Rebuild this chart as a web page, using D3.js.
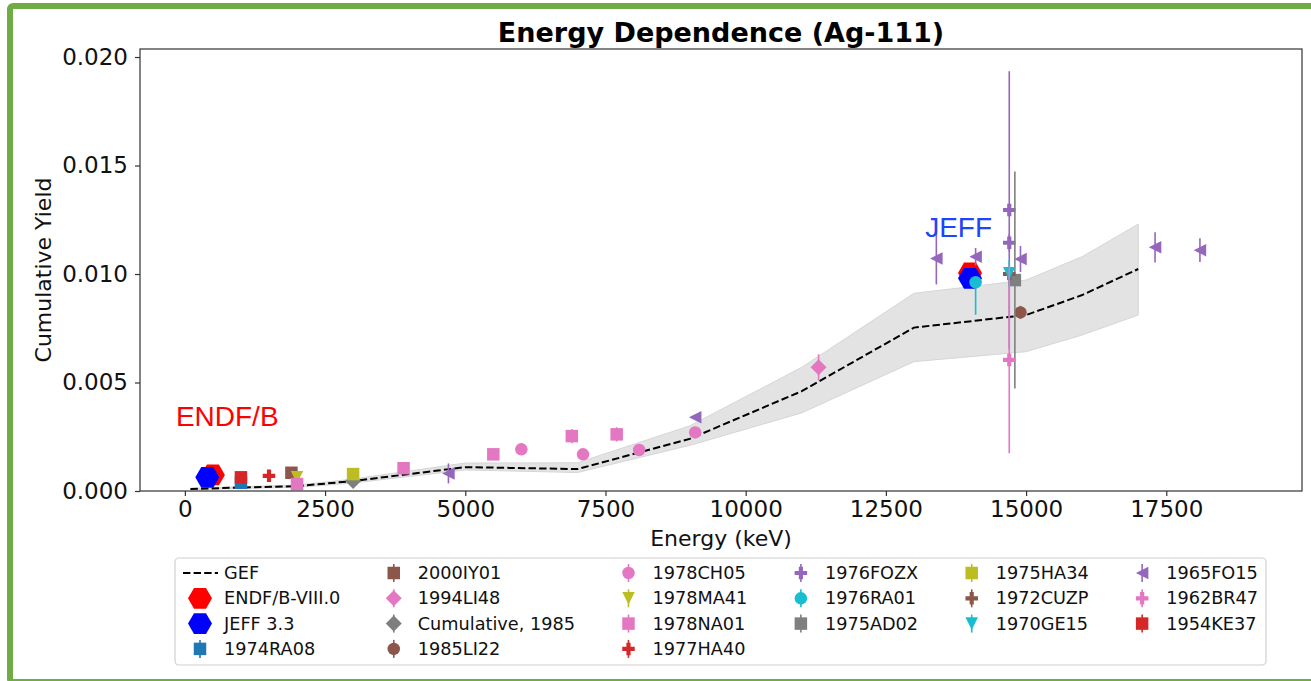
<!DOCTYPE html>
<html>
<head>
<meta charset="utf-8">
<script src="https://cdn.jsdelivr.net/npm/d3@7"></script>
<style>
  body { margin: 0; background: #fff; }
  svg { display: block; }
</style>
</head>
<body>
<svg id="chart" width="1311" height="681"></svg>
<script>
// ---- GEF model curve with its uncertainty band ----
const gefEnergy = [100, 1000, 2000, 3000, 5000, 7000, 9000, 11000, 13000, 15000, 16000, 17000];
const gefYield  = [0.00009, 0.00016, 0.00022, 0.00046, 0.00110, 0.00101, 0.00240, 0.00460, 0.00753, 0.00811, 0.00903, 0.01023];
const gefLow    = [0.00006, 0.00012, 0.00017, 0.00037, 0.00097, 0.00085, 0.00210, 0.00360, 0.00596, 0.00642, 0.00719, 0.00811];
const gefHigh   = [0.00012, 0.00020, 0.00027, 0.00055, 0.00129, 0.00130, 0.00300, 0.00570, 0.00911, 0.00972, 0.01080, 0.01230];

// ---- evaluated libraries ----
const endfEnergy = [500, 14000];
const endfYield  = [0.00074, 0.01005];
const jeffEnergy = [400, 14000];
const jeffYield  = [0.00063, 0.00980];

// ---- axis ticks ----
const xTicks = [0, 2500, 5000, 7500, 10000, 12500, 15000, 17500];
const yTicks = [0, 0.005, 0.010, 0.015, 0.020];

// ---- experimental data sets ----
const seriesNames = ["1974RA08", "2000IY01", "1994LI48", "Cumulative, 1985", "1985LI22",
  "1978CH05", "1978MA41", "1978NA01", "1977HA40", "1976FOZX", "1976RA01", "1975AD02",
  "1975HA34", "1972CUZP", "1970GE15", "1965FO15", "1962BR47", "1954KE37"];
const seriesMarkers = ["s", "s", "D", "D", "o", "o", "v", "s", "P", "P", "o", "s",
  "s", "P", "v", "<", "P", "s"];
const seriesColors = ["#1f77b4", "#8c564b", "#e377c2", "#7f7f7f", "#8c564b", "#e377c2",
  "#bcbd22", "#e377c2", "#d62728", "#9467bd", "#17becf", "#7f7f7f", "#bcbd22", "#8c564b",
  "#17becf", "#9467bd", "#e377c2", "#d62728"];
const seriesEnergy = [
  [1000], [1900], [11300], [3000], [14900],
  [6000, 7100, 8100, 9100], [2000], [2000, 3900, 5500, 6900, 7700], [1500],
  [14700, 14700], [14100], [14800], [3000], [14700], [14700],
  [4700, 9100, 13400, 14100, 14900, 17300, 18100], [14700], [1000]
];
const seriesYield = [
  [0.00038], [0.00084], [0.0057], [0.00046], [0.00823],
  [0.00192, 0.00169, 0.00189, 0.00270], [0.00063], [0.00032, 0.00105, 0.00169, 0.00253, 0.00261], [0.00070],
  [0.01295, 0.01144], [0.00962], [0.00972], [0.00078], [0.01000], [0.01003],
  [0.00081, 0.00340, 0.01072, 0.01080, 0.01069, 0.01123, 0.01110], [0.00604], [0.00063]
];
const seriesErrLow = [
  [0.00004], [0.00004], [0.0006], [0], [0.0003],
  [0.0001, 0.0001, 0.0001, 0.00012], [0.00004], [0.0001, 0.0001, 0.0001, 0.00033, 0.00033], [0.00004],
  [0.0064, 0.0004], [0.0015], [0.005], [0.00003], [0.0003], [0.0006],
  [0.00046, 0.0001, 0.0012, 0.0004, 0.0006, 0.0007, 0.00055], [0.0043], [0.00004]
];
const seriesErrHigh = [
  [0.00004], [0.00004], [0.0006], [0], [0.0003],
  [0.0001, 0.0001, 0.0001, 0.00012], [0.00004], [0.0001, 0.0001, 0.0001, 0.00033, 0.00033], [0.00004],
  [0.0064, 0.0004], [0], [0.005], [0.00003], [0.0003], [0.0006],
  [0.00046, 0.0001, 0.0012, 0.0004, 0.0006, 0.0007, 0.00055], [0.0043], [0.00004]
];

// ---- layout ----
const FONT = "'DejaVu Sans', sans-serif";
const plot = { left: 140, right: 1302, top: 49, bottom: 491 };
const svg = d3.select("#chart");

const x = d3.scaleLinear().domain([-800, 19920]).range([plot.left, plot.right]);
const y = d3.scaleLinear().domain([0, 0.02037]).range([plot.bottom, plot.top]);

// marker shapes (sizes in px, centred on 0,0)
const markerSize = { o: 12.5, s: 12.5, D: 16, v: 12.5, "<": 12.5, P: 12.5, H: 24 };
function markerPath(type) {
  const s = markerSize[type], h = s / 2;
  switch (type) {
    case "o": return `M${h},0A${h},${h} 0 1,1 ${-h},0A${h},${h} 0 1,1 ${h},0Z`;
    case "s": return `M${-h},${-h}H${h}V${h}H${-h}Z`;
    case "D": return `M0,${-h}L${h},0L0,${h}L${-h},0Z`;
    case "v": return `M0,${h}L${-h},${-h}L${h},${-h}Z`;
    case "<": return `M${-h},0L${h},${-h}L${h},${h}Z`;
    case "P": {
      const t = s / 6;
      return `M${-h},${-t}H${-t}V${-h}H${t}V${-t}H${h}V${t}H${t}V${h}H${-t}V${t}H${-h}Z`;
    }
    case "H": {
      const pts = d3.range(6).map(k => {
        const a = k * Math.PI / 3;
        return [h * Math.cos(a), h * Math.sin(a)];
      });
      return "M" + pts.map(p => p.join(",")).join("L") + "Z";
    }
  }
}

// outer green frame
svg.append("rect")
  .attr("x", 10).attr("y", 6).attr("width", 1306).attr("height", 676)
  .attr("rx", 3)
  .attr("fill", "#fff").attr("stroke", "#6fac46").attr("stroke-width", 6);

// clip to the axes area
svg.append("clipPath").attr("id", "plotClip")
  .append("rect")
  .attr("x", plot.left).attr("y", plot.top)
  .attr("width", plot.right - plot.left).attr("height", plot.bottom - plot.top);

const g = svg.append("g").attr("clip-path", "url(#plotClip)");

// GEF uncertainty band
const idx = d3.range(gefEnergy.length);
g.append("path")
  .attr("d", d3.area()
    .x(i => x(gefEnergy[i]))
    .y0(i => y(gefLow[i]))
    .y1(i => y(gefHigh[i]))(idx))
  .attr("fill", "#e3e3e3")
  .attr("stroke", "#d6d6d6").attr("stroke-width", 1);

// GEF curve
g.append("path")
  .attr("d", d3.line().x(i => x(gefEnergy[i])).y(i => y(gefYield[i]))(idx))
  .attr("fill", "none").attr("stroke", "#000")
  .attr("stroke-width", 2).attr("stroke-dasharray", "7.4,3.2");

// evaluated libraries
function drawLibrary(energy, yieldVals, color) {
  g.append("g").selectAll("path").data(d3.range(energy.length)).join("path")
    .attr("d", markerPath("H"))
    .attr("transform", i => `translate(${x(energy[i])},${y(yieldVals[i])})`)
    .attr("fill", color);
}
drawLibrary(endfEnergy, endfYield, "#ff0000");
drawLibrary(jeffEnergy, jeffYield, "#0000ff");

// experimental points with error bars
seriesNames.forEach((name, s) => {
  const grp = g.append("g").attr("class", "series");
  const pts = d3.range(seriesEnergy[s].length);
  grp.selectAll("line").data(pts).join("line")
    .attr("x1", i => x(seriesEnergy[s][i]))
    .attr("x2", i => x(seriesEnergy[s][i]))
    .attr("y1", i => y(seriesYield[s][i] - seriesErrLow[s][i]))
    .attr("y2", i => y(seriesYield[s][i] + seriesErrHigh[s][i]))
    .attr("stroke", seriesColors[s]).attr("stroke-width", 1.6);
  grp.selectAll("path").data(pts).join("path")
    .attr("d", markerPath(seriesMarkers[s]))
    .attr("transform", i => `translate(${x(seriesEnergy[s][i])},${y(seriesYield[s][i])})`)
    .attr("fill", seriesColors[s]);
});

// annotations
svg.append("text").attr("x", x(-160)).attr("y", y(0.00299))
  .attr("font-family", "'Liberation Sans', Arial, sans-serif").attr("font-size", 28)
  .attr("fill", "#ff0000").text("ENDF/B");
svg.append("text").attr("x", x(13200)).attr("y", y(0.01172))
  .attr("font-family", "'Liberation Sans', Arial, sans-serif").attr("font-size", 28)
  .attr("fill", "#1f45fc").text("JEFF");

// axes
const xAxis = svg.append("g").attr("transform", `translate(0,${plot.bottom})`)
  .call(d3.axisBottom(x).tickValues(xTicks).tickSize(5).tickSizeOuter(0).tickPadding(5)
    .tickFormat(d3.format("d")));
const yAxis = svg.append("g").attr("transform", `translate(${plot.left},0)`)
  .call(d3.axisLeft(y).tickValues(yTicks).tickSize(5).tickSizeOuter(0).tickPadding(7)
    .tickFormat(d3.format(".3f")));
[xAxis, yAxis].forEach(a => {
  a.select(".domain").remove();
  a.selectAll(".tick line").attr("stroke", "#333").attr("stroke-width", 1.2);
  a.selectAll(".tick text").attr("font-family", FONT).attr("font-size", 23).attr("fill", "#111");
});

// spines
svg.append("rect")
  .attr("x", plot.left).attr("y", plot.top)
  .attr("width", plot.right - plot.left).attr("height", plot.bottom - plot.top)
  .attr("fill", "none").attr("stroke", "#333").attr("stroke-width", 1.2);

// titles
svg.append("text").attr("x", (plot.left + plot.right) / 2).attr("y", 42)
  .attr("text-anchor", "middle").attr("font-family", FONT).attr("font-weight", "bold")
  .attr("font-size", 27).attr("fill", "#000").text("Energy Dependence (Ag-111)");
svg.append("text").attr("x", (plot.left + plot.right) / 2).attr("y", 546)
  .attr("text-anchor", "middle").attr("font-family", FONT)
  .attr("font-size", 22).attr("fill", "#111").text("Energy (keV)");
svg.append("text")
  .attr("transform", `translate(51,${(plot.top + plot.bottom) / 2}) rotate(-90)`)
  .attr("text-anchor", "middle").attr("font-family", FONT)
  .attr("font-size", 22).attr("fill", "#111").text("Cumulative Yield");

// ---- legend ----
const legendEntries = [
  { label: "GEF", kind: "line" },
  { label: "ENDF/B-VIII.0", kind: "lib", color: "#ff0000" },
  { label: "JEFF 3.3", kind: "lib", color: "#0000ff" }
].concat(seriesNames.map((n, s) => ({ label: n, kind: "exp", marker: seriesMarkers[s], color: seriesColors[s] })));

const legendBox = { x: 175, y: 558, w: 1091, h: 107 };
const rowY0 = 573, rowStep = 25.3, legendFont = 17.7;
const legend = svg.append("g");
legend.append("rect")
  .attr("x", legendBox.x).attr("y", legendBox.y).attr("width", legendBox.w).attr("height", legendBox.h)
  .attr("rx", 4).attr("fill", "#fff").attr("stroke", "#d0d0d0").attr("stroke-width", 1.2);

let textX = 224;
const colSizes = [4, 4, 4, 3, 3, 3];
let k = 0;
for (let c = 0; c < colSizes.length; c++) {
  const colEntries = legendEntries.slice(k, k + colSizes[c]);
  k += colSizes[c];
  let maxW = 0;
  colEntries.forEach((e, r) => {
    const cy = rowY0 + r * rowStep;
    const hx = textX - 24;
    if (e.kind === "line") {
      legend.append("line").attr("x1", hx - 17).attr("x2", hx + 18).attr("y1", cy).attr("y2", cy)
        .attr("stroke", "#000").attr("stroke-width", 2).attr("stroke-dasharray", "7.4,3.2");
    } else if (e.kind === "lib") {
      legend.append("path").attr("d", markerPath("H"))
        .attr("transform", `translate(${hx},${cy})`).attr("fill", e.color);
    } else {
      legend.append("line").attr("x1", hx).attr("x2", hx).attr("y1", cy - 9).attr("y2", cy + 9)
        .attr("stroke", e.color).attr("stroke-width", 1.6);
      legend.append("path").attr("d", markerPath(e.marker))
        .attr("transform", `translate(${hx},${cy})`).attr("fill", e.color);
    }
    const t = legend.append("text").attr("x", textX).attr("y", cy)
      .attr("dominant-baseline", "central").attr("font-family", FONT)
      .attr("font-size", legendFont).attr("fill", "#111").text(e.label);
    maxW = Math.max(maxW, t.node().getComputedTextLength());
  });
  textX += maxW + 77.5;
}
</script>
</body>
</html>
